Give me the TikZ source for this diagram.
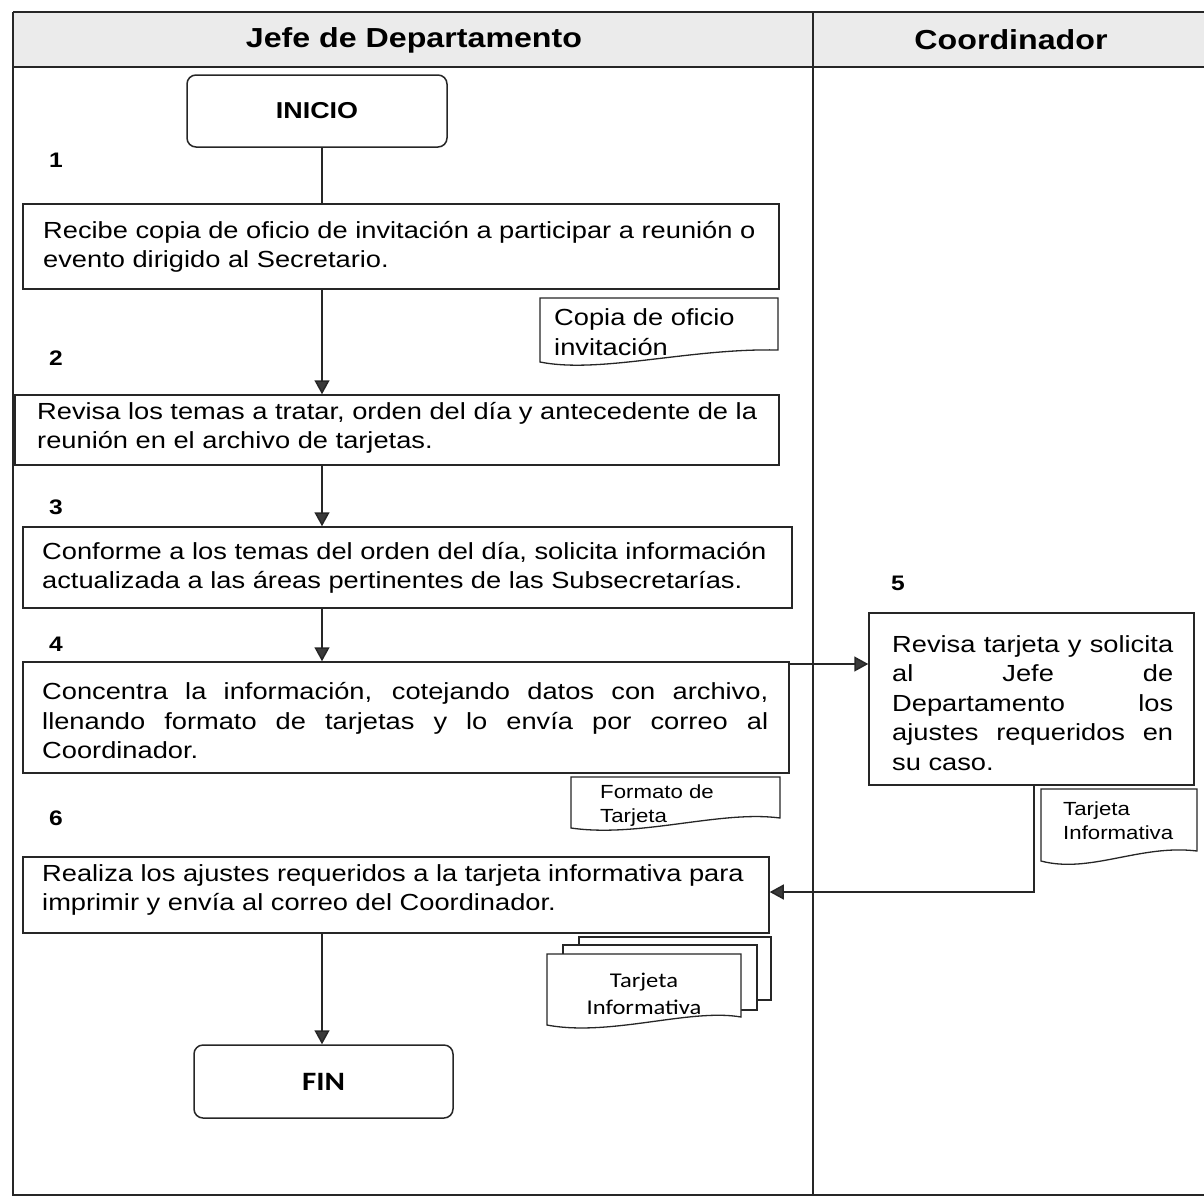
\documentclass[tikz,border=0pt]{standalone}
\usepackage{fontspec}
\setmainfont{Liberation Sans}[FakeStretch=1.17]
\newfontfamily\calib{Carlito}[FakeStretch=1.17]
\usetikzlibrary{arrows.meta}
\definecolor{ln}{HTML}{262626}
\definecolor{tip}{HTML}{3A3A3A}
\definecolor{hdr}{HTML}{EBEBEB}
\newcommand\jl[2]{\makebox[#1][s]{#2}}
\begin{document}
\begin{tikzpicture}[x=1pt,y=-1pt,
  every node/.style={inner sep=0pt},
  box/.style={draw=ln, line width=1.5pt, rectangle},
  term/.style={draw=ln, line width=1.5pt, rectangle, rounded corners=9pt},
  txt/.style={font=\fontsize{23.3}{29.5}\selectfont, align=left, anchor=west},
  small/.style={font=\fontsize{19}{24}\selectfont, align=left, anchor=west},
  num/.style={font=\fontsize{21}{25}\selectfont\bfseries},
  title/.style={font=\fontsize{27.5}{30}\selectfont\bfseries},
  arr/.style={draw=ln, line width=1.5pt, -{Triangle[length=14pt,width=15pt,fill=tip]}},
  con/.style={draw=ln, line width=1.5pt},
  doc/.style={draw=ln, line width=1.3pt, fill=white},
  frame/.style={draw=ln, line width=1.5pt}]
\useasboundingbox (0,0) rectangle (1204,1197);
% lanes
\fill[hdr] (13,12) rectangle (1204,67);
\draw[frame] (13,12) -- (1204,12);
\draw[frame] (13,67) -- (1204,67);
\draw[frame] (13,12) -- (13,1195) -- (1204,1195);
\draw[frame] (813,12) -- (813,1195);
\node[title] (h1) at (414,40) {Jefe de Departamento};
\node[title] (h2) at (1011,40) {Coordinador};
% terminals
\node[term, minimum width=260pt, minimum height=72pt, font=\fontsize{23}{26}\selectfont\bfseries] (inicio) at (317,111) {INICIO};
\node[term, minimum width=259pt, minimum height=73pt, font=\calib\fontsize{26.5}{28}\selectfont\bfseries] (fin) at (323.5,1081.5) {FIN};
% step boxes
\node[box, minimum width=756pt, minimum height=85pt] (b1) at (401,246.5) {};
\node[box, minimum width=764pt, minimum height=70pt] (b2) at (397,430) {};
\node[box, minimum width=769pt, minimum height=81pt] (b3) at (407.5,567.5) {};
\node[box, minimum width=766pt, minimum height=111pt] (b4) at (406,717.5) {};
\node[box, minimum width=325pt, minimum height=172pt] (b5) at (1031.5,699) {};
\node[box, minimum width=746pt, minimum height=76pt] (b6) at (396,895) {};
% texts
\node[txt] (t1) at (43,247) {Recibe copia de oficio de invitación a participar a reunión o\\evento dirigido al Secretario.};
\node[txt] (t2) at (37,428) {Revisa los temas a tratar, orden del día y antecedente de la\\reunión en el archivo de tarjetas.};
\node[txt] (t3) at (42,568) {Conforme a los temas del orden del día, solicita información\\actualizada a las áreas pertinentes de las Subsecretarías.};
\node[txt] (t4) at (42,721) {\jl{726pt}{Concentra la información, cotejando datos con archivo,}\\\jl{726pt}{llenando formato de tarjetas y lo envía por correo al}\\Coordinador.};
\node[txt] (t5) at (892,703) {\jl{281pt}{Revisa tarjeta y solicita}\\\jl{281pt}{al Jefe de}\\\jl{281pt}{Departamento los}\\\jl{281pt}{ajustes requeridos en}\\su caso.};
\node[txt] (t6) at (42,890) {Realiza los ajustes requeridos a la tarjeta informativa para\\imprimir y envía al correo del Coordinador.};
% numbers
\node[num] (n1) at (56,160) {1};
\node[num] (n2) at (56,358) {2};
\node[num] (n3) at (56,507) {3};
\node[num] (n4) at (56,644) {4};
\node[num] (n5) at (898,583) {5};
\node[num] (n6) at (56,818) {6};
% documents
\draw[doc] (540,298) -- (778,298) -- (778,350) .. controls (690,348) and (600,374) .. (540,362) -- cycle;
\node[txt] (d1) at (554,332) {Copia de oficio\\invitación};
\draw[doc] (571,777) -- (780,777) -- (780,818) .. controls (720,810) and (640,838) .. (571,828) -- cycle;
\node[small] (d2) at (600,806) {Formato de\\Tarjeta};
\draw[doc] (1041,789) -- (1197,789) -- (1197,851) .. controls (1140,844) and (1090,874) .. (1041,861) -- cycle;
\node[small] (d3) at (1063,821) {Tarjeta\\Informativa};
\draw[doc] (579,937) rectangle (771,1000);
\draw[doc] (563,945) rectangle (757,1010);
\draw[doc] (547,954) -- (741,954) -- (741,1017) .. controls (690,1008) and (610,1037) .. (547,1025) -- cycle;
\node[font=\calib\fontsize{21}{27}\selectfont, align=center] (d4) at (644,994) {Tarjeta\\Informativa};
% connectors
\coordinate (vx) at (322,0);
\coordinate (ay) at (0,664);
\coordinate (cx) at (1034,0);
\coordinate (cy) at (0,892);
\draw[con] (inicio.south -| vx) -- (b1.north -| vx);
\draw[arr] (b1.south -| vx) -- (b2.north -| vx);
\draw[arr] (b2.south -| vx) -- (b3.north -| vx);
\draw[arr] (b3.south -| vx) -- (b4.north -| vx);
\draw[arr] (b4.east |- ay) -- (b5.west |- ay);
\draw[arr] (b5.south -| cx) |- (b6.east |- cy);
\draw[arr] (b6.south -| vx) -- (fin.north -| vx);
\end{tikzpicture}
\end{document}
